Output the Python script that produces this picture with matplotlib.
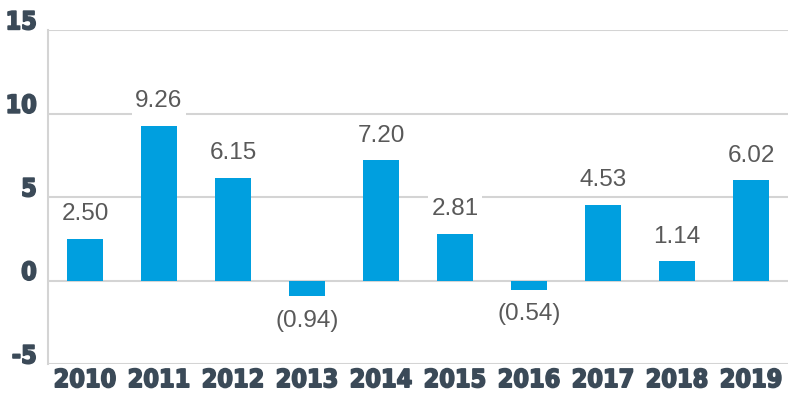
import matplotlib
matplotlib.use("Agg")
import matplotlib.pyplot as plt
import matplotlib.patheffects as pe
from matplotlib import font_manager

years = ["2010", "2011", "2012", "2013", "2014", "2015", "2016", "2017", "2018", "2019"]
values = [2.50, 9.26, 6.15, -0.94, 7.20, 2.81, -0.54, 4.53, 1.14, 6.02]
yticks = [-5, 0, 5, 10, 15]

bar_color = "#009FDF"
tick_color = "#3B4A58"
label_color = "#595959"
grid_color = "#D4D4D4"

# look for a bold condensed face for the tick labels
cond = None
for f in font_manager.fontManager.ttflist:
    fn = f.fname.lower()
    if ("condensed" in fn or "narrow" in fn) and "bold" in fn and "oblique" not in fn and "italic" not in fn:
        cond = f.fname
        break
if cond:
    tick_fp = font_manager.FontProperties(fname=cond, size=18)
else:
    tick_fp = font_manager.FontProperties(family="DejaVu Sans", weight="bold", size=16)
heavy = [pe.withStroke(linewidth=1.2, foreground=tick_color)]

names = {f.name for f in font_manager.fontManager.ttflist}
label_font = "Liberation Sans" if "Liberation Sans" in names else "DejaVu Sans"

fig = plt.figure(figsize=(8, 4), dpi=100)
ax = fig.add_axes([0.06, 0.09, 0.925, 0.835])

x = list(range(len(years)))
ax.bar(x, values, width=0.48, color=bar_color, zorder=3)

ax.set_ylim(-5, 15)
ax.set_xlim(-0.5, len(years) - 0.5)
ax.set_yticks(yticks)
ax.set_yticklabels([])
ax.set_xticks(x)
ax.set_xticklabels(years)

for lab in ax.get_xticklabels():
    lab.set_fontproperties(tick_fp)
    lab.set_color(tick_color)
    lab.set_path_effects(heavy)

# y labels sit a little above their gridlines
ytr = ax.get_yaxis_transform()
for t in yticks:
    ax.annotate(str(t), xy=(0, t), xycoords=ytr, xytext=(-8, 5.5),
                textcoords="offset points", ha="right", va="center",
                fontproperties=tick_fp, color=tick_color, path_effects=heavy,
                annotation_clip=False)

ax.tick_params(axis="both", length=0)
ax.tick_params(axis="x", pad=3)

for t in yticks:
    ax.axhline(t, color=grid_color, lw=1.5, zorder=1)

for s in ["top", "right", "bottom"]:
    ax.spines[s].set_visible(False)
ax.spines["left"].set_color(grid_color)
ax.spines["left"].set_linewidth(1.5)

for xi, v in zip(x, values):
    if v >= 0:
        txt = f"{v:.2f}"
        ypos = v + 0.8
        va = "bottom"
    else:
        txt = f"({abs(v):.2f})"
        ypos = v - 0.8
        va = "top"
    ax.text(xi, ypos, txt, ha="center", va=va,
            fontsize=17.5, color=label_color, family=label_font, zorder=4,
            bbox=dict(boxstyle="square,pad=0.15", fc="white", ec="none"))

fig.savefig("out.png", dpi=100)
